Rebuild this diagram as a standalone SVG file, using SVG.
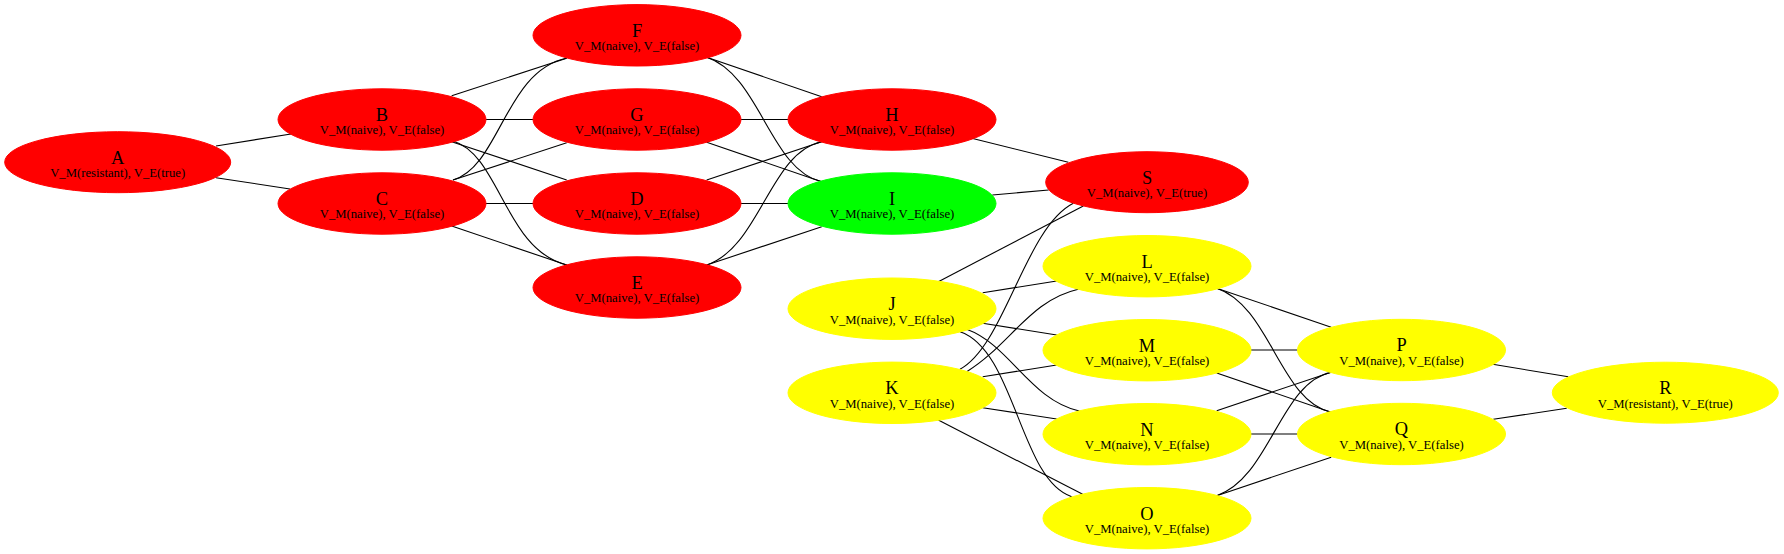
<svg xmlns="http://www.w3.org/2000/svg" width="1784" height="554" viewBox="0 0 1784 554">
<style>
.e{fill:none;stroke:#000;stroke-width:1.1}
.r{fill:#ff0000;stroke:#ff0000}
.g{fill:#00ff00;stroke:#00ff00}
.y{fill:#ffff00;stroke:#ffff00}
text{font-family:"Liberation Serif","Times New Roman",serif;text-anchor:middle;fill:#000}
.t{font-size:18.4px}
.s{font-size:12.7px}
</style>
<rect width="1784" height="554" fill="#fff"/>
<g id="connectors">
<path class="e" d="M216,146 L291,134"/>
<path class="e" d="M216,177.7 L290,189"/>
<path class="e" d="M451.7,95.7 L566.7,58.3"/>
<path class="e" d="M486,119.5 L533,119.5"/>
<path class="e" d="M451.7,141.7 L566.7,180"/>
<path class="e" d="M453,141 C500,155 505,250 567,265"/>
<path class="e" d="M453,180 C500,166 505,71 567,58"/>
<path class="e" d="M453,180 L566.7,142.7"/>
<path class="e" d="M486,203.5 L533,203.5"/>
<path class="e" d="M451.7,226 L566.7,265"/>
<path class="e" d="M706.7,57.3 L821.7,96.7"/>
<path class="e" d="M706.7,57.3 C760,75 770,170 821.7,181.7"/>
<path class="e" d="M741,119.5 L788,119.5"/>
<path class="e" d="M706.7,142.3 L821.7,181.7"/>
<path class="e" d="M706.7,180 L821.7,141.7"/>
<path class="e" d="M741,203.5 L788,203.5"/>
<path class="e" d="M706.7,265 C760,247 770,152 821.7,141.7"/>
<path class="e" d="M706.7,265 L821.7,226.7"/>
<path class="e" d="M971.7,138.3 L1068.3,162.3"/>
<path class="e" d="M992.3,195 L1048.7,190"/>
<path class="e" d="M938.3,281.7 L1083.3,206"/>
<path class="e" d="M960,369.3 C1005,345 1025,228 1073.3,203.3"/>
<path class="e" d="M982.7,292.7 L1056.7,281"/>
<path class="e" d="M982.7,323.3 L1056.7,335"/>
<path class="e" d="M966.7,329.3 C1010,345 1030,400 1079.3,411"/>
<path class="e" d="M960,331.7 C1015,350 1020,480 1071.7,496.7"/>
<path class="e" d="M966.7,371.7 C1010,345 1030,300 1078.3,289.3"/>
<path class="e" d="M982.7,376.7 L1056.7,365"/>
<path class="e" d="M982.7,407.7 L1056.7,419"/>
<path class="e" d="M938.3,420 L1082.7,494.3"/>
<path class="e" d="M1216.7,288.2 L1331.2,327.2"/>
<path class="e" d="M1216.7,288.2 C1270,306 1280,401 1331.2,412.2"/>
<path class="e" d="M1251,350 L1297.7,350"/>
<path class="e" d="M1216.7,373 L1331.2,412.2"/>
<path class="e" d="M1216.7,410.7 L1331.2,372.2"/>
<path class="e" d="M1251,434 L1297.7,434"/>
<path class="e" d="M1216.7,495.7 C1270,477.7 1280,382.7 1331.2,372.2"/>
<path class="e" d="M1216.7,495.7 L1331.2,457.2"/>
<path class="e" d="M1492.7,364.3 L1568.3,376.7"/>
<path class="e" d="M1493.3,419.3 L1566.7,408.3"/>
</g>
<g id="A"><ellipse class="r" cx="117.7" cy="162.2" rx="113" ry="30.5"/><text class="t" x="117.7" y="163.5">A</text><text class="s" x="117.7" y="177">V_M(resistant), V_E(true)</text></g>
<g id="B"><ellipse class="r" cx="382" cy="119.5" rx="104" ry="30.7"/><text class="t" x="382" y="120.8">B</text><text class="s" x="382" y="134.3">V_M(naive), V_E(false)</text></g>
<g id="C"><ellipse class="r" cx="382" cy="203.5" rx="104" ry="30.7"/><text class="t" x="382" y="204.8">C</text><text class="s" x="382" y="218.3">V_M(naive), V_E(false)</text></g>
<g id="F"><ellipse class="r" cx="637" cy="35.3" rx="104" ry="30.7"/><text class="t" x="637" y="36.6">F</text><text class="s" x="637" y="50.1">V_M(naive), V_E(false)</text></g>
<g id="G"><ellipse class="r" cx="637" cy="119.5" rx="104" ry="30.7"/><text class="t" x="637" y="120.8">G</text><text class="s" x="637" y="134.3">V_M(naive), V_E(false)</text></g>
<g id="D"><ellipse class="r" cx="637" cy="203.5" rx="104" ry="30.7"/><text class="t" x="637" y="204.8">D</text><text class="s" x="637" y="218.3">V_M(naive), V_E(false)</text></g>
<g id="E"><ellipse class="r" cx="637" cy="287.5" rx="104" ry="30.7"/><text class="t" x="637" y="288.8">E</text><text class="s" x="637" y="302.3">V_M(naive), V_E(false)</text></g>
<g id="H"><ellipse class="r" cx="892" cy="119.5" rx="104" ry="30.7"/><text class="t" x="892" y="120.8">H</text><text class="s" x="892" y="134.3">V_M(naive), V_E(false)</text></g>
<g id="I"><ellipse class="g" cx="892" cy="203.5" rx="104" ry="30.7"/><text class="t" x="892" y="204.8">I</text><text class="s" x="892" y="218.3">V_M(naive), V_E(false)</text></g>
<g id="J"><ellipse class="y" cx="892" cy="308.7" rx="104" ry="30.7"/><text class="t" x="892" y="310">J</text><text class="s" x="892" y="323.5">V_M(naive), V_E(false)</text></g>
<g id="K"><ellipse class="y" cx="892" cy="392.8" rx="104" ry="30.7"/><text class="t" x="892" y="394.1">K</text><text class="s" x="892" y="407.6">V_M(naive), V_E(false)</text></g>
<g id="S"><ellipse class="r" cx="1147" cy="182.2" rx="101.3" ry="30.5"/><text class="t" x="1147" y="183.5">S</text><text class="s" x="1147" y="197">V_M(naive), V_E(true)</text></g>
<g id="L"><ellipse class="y" cx="1147" cy="266.2" rx="104" ry="30.7"/><text class="t" x="1147" y="267.5">L</text><text class="s" x="1147" y="281">V_M(naive), V_E(false)</text></g>
<g id="M"><ellipse class="y" cx="1147" cy="350.2" rx="104" ry="30.7"/><text class="t" x="1147" y="351.5">M</text><text class="s" x="1147" y="365">V_M(naive), V_E(false)</text></g>
<g id="N"><ellipse class="y" cx="1147" cy="434.2" rx="104" ry="30.7"/><text class="t" x="1147" y="435.5">N</text><text class="s" x="1147" y="449">V_M(naive), V_E(false)</text></g>
<g id="O"><ellipse class="y" cx="1147" cy="518.2" rx="104" ry="30.7"/><text class="t" x="1147" y="519.5">O</text><text class="s" x="1147" y="533">V_M(naive), V_E(false)</text></g>
<g id="P"><ellipse class="y" cx="1401.5" cy="350" rx="104" ry="30.7"/><text class="t" x="1401.5" y="351.3">P</text><text class="s" x="1401.5" y="364.8">V_M(naive), V_E(false)</text></g>
<g id="Q"><ellipse class="y" cx="1401.5" cy="434" rx="104" ry="30.7"/><text class="t" x="1401.5" y="435.3">Q</text><text class="s" x="1401.5" y="448.8">V_M(naive), V_E(false)</text></g>
<g id="R"><ellipse class="y" cx="1665.3" cy="392.7" rx="113" ry="30.5"/><text class="t" x="1665.3" y="394">R</text><text class="s" x="1665.3" y="407.5">V_M(resistant), V_E(true)</text></g>
</svg>
